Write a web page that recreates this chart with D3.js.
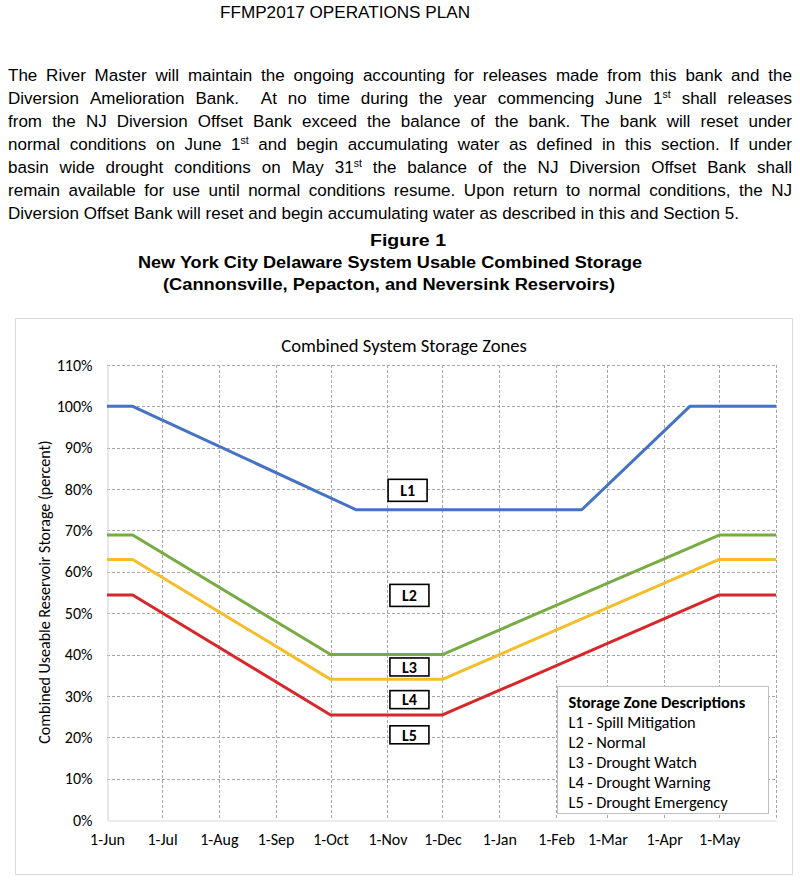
<!DOCTYPE html>
<html>
<head>
<meta charset="utf-8">
<script src="https://cdn.jsdelivr.net/npm/d3@7"></script>
<style>
  body { margin: 0; background: #fff; }
</style>
</head>
<body>
<svg id="page" width="800" height="883"></svg>
<script>
// ---- page text ----
const pageTitle = "FFMP2017 OPERATIONS PLAN"
// "^" marks a superscript ending
const paragraph = [
  "The River Master will maintain the ongoing accounting for releases made from this bank and the",
  "Diversion Amelioration Bank.  At no time during the year commencing June 1^st shall releases",
  "from the NJ Diversion Offset Bank exceed the balance of the bank. The bank will reset under",
  "normal conditions on June 1^st and begin accumulating water as defined in this section. If under",
  "basin wide drought conditions on May 31^st the balance of the NJ Diversion Offset Bank shall",
  "remain available for use until normal conditions resume. Upon return to normal conditions, the NJ",
  "Diversion Offset Bank will reset and begin accumulating water as described in this and Section 5."
]
const figureTitle = [
  "Figure 1",
  "New York City Delaware System Usable Combined Storage",
  "(Cannonsville, Pepacton, and Neversink Reservoirs)"
]

// ---- chart data ----
const chartTitle = "Combined System Storage Zones"
const yTitle = "Combined Useable Reservoir Storage (percent)"
const monthTicks = ["2017-06-01", "2017-07-01", "2017-08-01", "2017-09-01", "2017-10-01", "2017-11-01",
  "2017-12-01", "2018-01-01", "2018-02-01", "2018-03-01", "2018-04-01", "2018-05-01", "2018-06-01"]
const yTicks = [0, 10, 20, 30, 40, 50, 60, 70, 80, 90, 100, 110]

const l1Dates = ["2017-06-01", "2017-06-15", "2017-10-15", "2018-02-15", "2018-04-15", "2018-06-01"]
const l1Values = [100, 100, 75, 75, 100, 100]
const droughtDates = ["2017-06-01", "2017-06-15", "2017-10-01", "2017-12-01", "2018-05-01", "2018-06-01"]
const l2Values = [68.9, 68.9, 40, 40, 68.9, 68.9]
const l3Values = [63, 63, 34, 34, 63, 63]
const l4Values = [54.4, 54.4, 25.4, 25.4, 54.4, 54.4]

const zoneLabels = ["L1", "L2", "L3", "L4", "L5"]
const zoneLabelDates = ["2017-11-12", "2017-11-13", "2017-11-13", "2017-11-13", "2017-11-13"]
const zoneLabelValues = [79.7, 54.3, 37, 29.1, 20.6]

const legendTitle = "Storage Zone Descriptions"
const legendItems = ["L1 - Spill Mitigation", "L2 - Normal", "L3 - Drought Watch",
  "L4 - Drought Warning", "L5 - Drought Emergency"]

const parseDay = d3.timeParse("%Y-%m-%d")
const svg = d3.select("#page")
svg.append("rect").attr("width", 800).attr("height", 883).attr("fill", "#fff")

// ---- document text ----
const docFont = "'Liberation Sans Narrow', 'Liberation Sans', Arial, sans-serif"
svg.append("text")
  .attr("x", 220).attr("y", 18)
  .attr("font-family", docFont).attr("font-size", 16)
  .attr("textLength", 250).attr("lengthAdjust", "spacingAndGlyphs")
  .text(pageTitle)

const para = svg.append("g").attr("font-family", docFont).attr("font-size", 17).attr("fill", "#000")
const paraLeft = 8, paraRight = 792, lastLineEnd = 739

function wordNode(g, w, y) {
  const t = g.append("text").attr("y", y)
  const parts = w.split("^")
  t.append("tspan").text(parts[0])
  if (parts[1]) t.append("tspan").attr("dy", -6).attr("font-size", 10.5).text(parts[1])
  return t
}
// measure a space
const probeA = para.append("text").text("x x"), probeB = para.append("text").text("xx")
const spaceW = probeA.node().getComputedTextLength() - probeB.node().getComputedTextLength()
probeA.remove(); probeB.remove()

const lineRows = paragraph.map((line, i) => {
  const g = para.append("g")
  const words = line.split(" ")
  const nodes = words.map(w => wordNode(g, w, 81 + i * 23))
  const widths = nodes.map(n => n.node().getComputedTextLength())
  return { g, nodes, widths }
})
// squeeze factor so the unjustified last line ends where it does in the original
const last = lineRows[lineRows.length - 1]
const lastNatural = d3.sum(last.widths) + spaceW * (last.widths.length - 1)
const k = (lastLineEnd - paraLeft) / lastNatural

lineRows.forEach((row, i) => {
  const justify = i < lineRows.length - 1
  const avail = (paraRight - paraLeft) / k
  const gap = justify ? (avail - d3.sum(row.widths)) / (row.widths.length - 1) : spaceW
  let x = 0
  row.nodes.forEach((n, j) => {
    n.attr("x", x)
    x += row.widths[j] + gap
  })
  row.g.attr("transform", `translate(${paraLeft},0) scale(${k},1)`)
})

const figX = [408, 390, 389]
const figY = [246, 268, 290]
const figW = [76, 504, 452]
figureTitle.forEach((t, i) => {
  svg.append("text")
    .attr("x", figX[i]).attr("y", figY[i])
    .attr("text-anchor", "middle")
    .attr("font-family", "'Liberation Sans', Arial, sans-serif")
    .attr("font-weight", "bold").attr("font-size", 16)
    .attr("textLength", figW[i]).attr("lengthAdjust", "spacingAndGlyphs")
    .text(t)
})

// ---- chart ----
const chartFont = "Carlito, Lato, 'Open Sans', sans-serif"
svg.append("rect")
  .attr("x", 15.5).attr("y", 318.5).attr("width", 777).attr("height", 556)
  .attr("fill", "#fff").attr("stroke", "#d9d9d9")

const plot = { left: 107, right: 776, top: 365, bottom: 820 }
const x = d3.scaleTime()
  .domain([parseDay("2017-06-01"), parseDay("2018-06-01")])
  .range([plot.left, plot.right])
const y = d3.scaleLinear().domain([0, 110]).range([plot.bottom, plot.top])

svg.append("text")
  .attr("x", 404).attr("y", 352)
  .attr("text-anchor", "middle")
  .attr("font-family", chartFont).attr("font-size", 18.6).attr("fill", "#000")
  .text(chartTitle)

// gridlines
const grid = svg.append("g").attr("stroke", "#a6a6a6").attr("stroke-dasharray", "3,2").attr("stroke-width", 1)
grid.selectAll("line.h").data(yTicks.filter(d => d > 0)).join("line")
  .attr("x1", plot.left).attr("x2", plot.right)
  .attr("y1", d => Math.round(y(d)) + 0.5).attr("y2", d => Math.round(y(d)) + 0.5)
grid.selectAll("line.v").data(monthTicks.slice(1)).join("line")
  .attr("x1", d => Math.round(x(parseDay(d))) + 0.5).attr("x2", d => Math.round(x(parseDay(d))) + 0.5)
  .attr("y1", plot.top).attr("y2", plot.bottom)

// axes
const yAxis = svg.append("g")
  .attr("transform", `translate(${plot.left + 0.5},0)`)
  .call(d3.axisLeft(y).tickValues(yTicks).tickFormat(d => d + "%").tickSize(0).tickPadding(15))
const xAxis = svg.append("g")
  .attr("transform", `translate(0,${plot.bottom + 0.5})`)
  .call(d3.axisBottom(x).tickValues(monthTicks.slice(0, -1).map(parseDay))
    .tickFormat(d3.timeFormat("1-%b")).tickSize(0).tickPadding(13))
;[yAxis, xAxis].forEach(a => {
  a.select(".domain").attr("stroke", "#d9d9d9").attr("stroke-width", 1.2)
  a.selectAll("text").attr("font-family", chartFont).attr("font-size", 16).attr("fill", "#000")
})

svg.append("text")
  .attr("transform", `translate(50,${592}) rotate(-90)`)
  .attr("text-anchor", "middle")
  .attr("font-family", chartFont).attr("font-size", 16).attr("fill", "#000")
  .text(yTitle)

// zone lines
const line = d3.line().x(d => x(d[0])).y(d => y(d[1]))
const series = [
  { dates: l1Dates, values: l1Values, color: "#4472c4" },
  { dates: droughtDates, values: l2Values, color: "#77ab43" },
  { dates: droughtDates, values: l3Values, color: "#f4be2a" },
  { dates: droughtDates, values: l4Values, color: "#d8272a" }
]
svg.append("g").selectAll("path").data(series).join("path")
  .attr("d", s => line(s.dates.map((d, i) => [parseDay(d), s.values[i]])))
  .attr("fill", "none").attr("stroke", s => s.color).attr("stroke-width", 3)
  .attr("stroke-linejoin", "round")

// zone label boxes
const labelG = svg.append("g").selectAll("g").data(zoneLabels).join("g")
  .attr("transform", (d, i) => `translate(${x(parseDay(zoneLabelDates[i]))},${y(zoneLabelValues[i])})`)
labelG.append("rect")
  .attr("x", -19.5).attr("y", (d, i) => i < 2 ? -11 : -9)
  .attr("width", 39).attr("height", (d, i) => i < 2 ? 22 : 18)
  .attr("fill", "#fff").attr("stroke", "#000").attr("stroke-width", 1.6)
labelG.append("text")
  .attr("text-anchor", "middle").attr("dy", "0.36em")
  .attr("font-family", chartFont).attr("font-weight", "bold").attr("font-size", 16)
  .text(d => d)

// legend
const legend = svg.append("g").attr("transform", "translate(557.5,686.5)")
legend.append("rect").attr("width", 211).attr("height", 127)
  .attr("fill", "#fff").attr("stroke", "#bfbfbf")
legend.append("text")
  .attr("x", 11).attr("y", 21)
  .attr("font-family", chartFont).attr("font-weight", "bold").attr("font-size", 16.4)
  .text(legendTitle)
legend.selectAll("text.item").data(legendItems).join("text")
  .attr("class", "item")
  .attr("x", 11).attr("y", (d, i) => 41 + i * 20)
  .attr("font-family", chartFont).attr("font-size", 16.4)
  .text(d => d)
</script>
</body>
</html>
